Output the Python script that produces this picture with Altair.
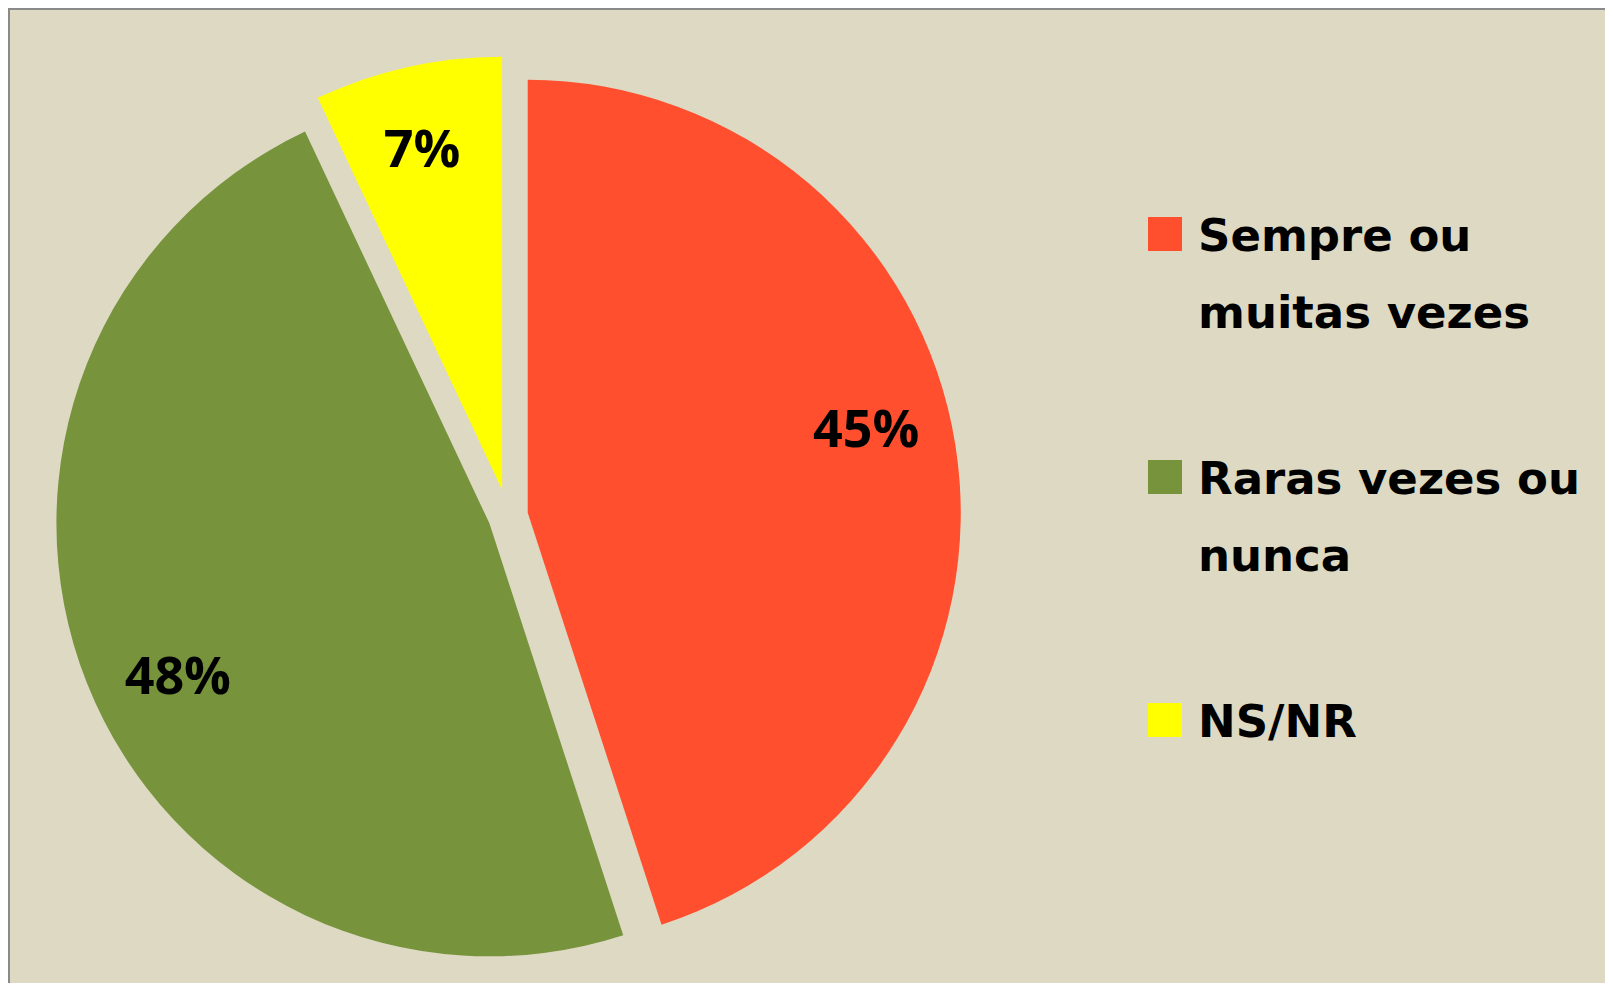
import altair as alt
import pandas as pd

# ---- data ----
categories = ["Sempre ou muitas vezes", "Raras vezes ou nunca", "NS/NR"]
values = [45, 48, 7]
legend_labels = ["Sempre ou\nmuitas vezes", "Raras vezes ou\nnunca", "NS/NR"]
colors = ["#FF4F2E", "#77933C", "#FFFF00"]

df = pd.DataFrame({
    "cat": categories,
    "value": values,
    "idx": list(range(len(categories))),
    "legend": legend_labels,
})

# ---- layout / style ----
W, H = 1597, 975
CX, CY = 500, 508
R = 433
LABEL_R = 348
LABEL_ROT_FACTOR = -0.028   # label angle shift as a fraction of the slice span
explode_default = 20
explode_special = {"NS/NR": 27}
ex_expr = " : ".join(
    [f"datum.cat === '{k}' ? {v}" for k, v in explode_special.items()] + [str(explode_default)]
)

color_scale = alt.Scale(domain=categories, range=colors)

base = (
    alt.Chart(df)
    .transform_window(cum="sum(value)", sort=[alt.SortField("idx")], frame=[None, 0])
    .transform_joinaggregate(total="sum(value)")
    .transform_calculate(a1="datum.cum / datum.total * 2 * PI")
    .transform_calculate(a0="(datum.cum - datum.value) / datum.total * 2 * PI")
    .transform_calculate(mid="(datum.a0 + datum.a1) / 2")
    .transform_calculate(lang=f"datum.mid + {LABEL_ROT_FACTOR} * (datum.a1 - datum.a0)")
    .transform_calculate(ex=ex_expr)
    .transform_calculate(cx=f"{CX} + datum.ex * sin(datum.mid)")
    .transform_calculate(cy=f"{CY} - datum.ex * cos(datum.mid)")
    .transform_calculate(lx=f"datum.cx + {LABEL_R} * sin(datum.lang)")
    .transform_calculate(ly=f"datum.cy - {LABEL_R} * cos(datum.lang)")
    .transform_calculate(pct="datum.value + '%'")
)

arcs = base.mark_arc(outerRadius=R).encode(
    theta=alt.Theta("a0:Q", scale=None),
    theta2="a1:Q",
    x=alt.X("cx:Q", scale=None),
    y=alt.Y("cy:Q", scale=None),
    color=alt.Color("cat:N", scale=color_scale, legend=None),
)

labels = base.mark_text(
    font="Open Sans", fontWeight="bold", fontSize=52, color="black",
    align="center", baseline="middle",
).encode(
    x=alt.X("lx:Q", scale=None),
    y=alt.Y("ly:Q", scale=None),
    text="pct:N",
)

ypos = alt.Y(
    "cat:N",
    scale=alt.Scale(type="point", domain=categories, range=[226, 712], padding=0),
    axis=None,
)

squares = alt.Chart(df).mark_square(size=1156, opacity=1).encode(
    x=alt.value(1157),
    y=ypos,
    color=alt.Color("cat:N", scale=color_scale, legend=None),
)

legend_text = alt.Chart(df).mark_text(
    font="DejaVu Sans", fontWeight="bold", fontSize=45, color="black",
    align="left", baseline="alphabetic", dy=17, lineBreak="\n", lineHeight=77,
).encode(
    x=alt.value(1190),
    y=ypos,
    text="legend:N",
)

left_border = alt.Chart(df).mark_rule(color="#8a8a8a", strokeWidth=2).encode(
    x=alt.value(1), y=alt.value(0), y2=alt.value(H)
)
top_border = alt.Chart(df).mark_rule(color="#8a8a8a", strokeWidth=2).encode(
    x=alt.value(0), x2=alt.value(W), y=alt.value(1)
)

chart = (
    alt.layer(arcs, labels, squares, legend_text, left_border, top_border)
    .resolve_scale(x="independent", y="independent")
    .properties(
        width=W, height=H,
        autosize=alt.AutoSizeParams(type="none"),
        padding=0,
        background="#DDD9C3",
    )
    .configure_view(stroke=None)
)

chart.save("out.html", embed_options={"renderer": "svg", "actions": False})
